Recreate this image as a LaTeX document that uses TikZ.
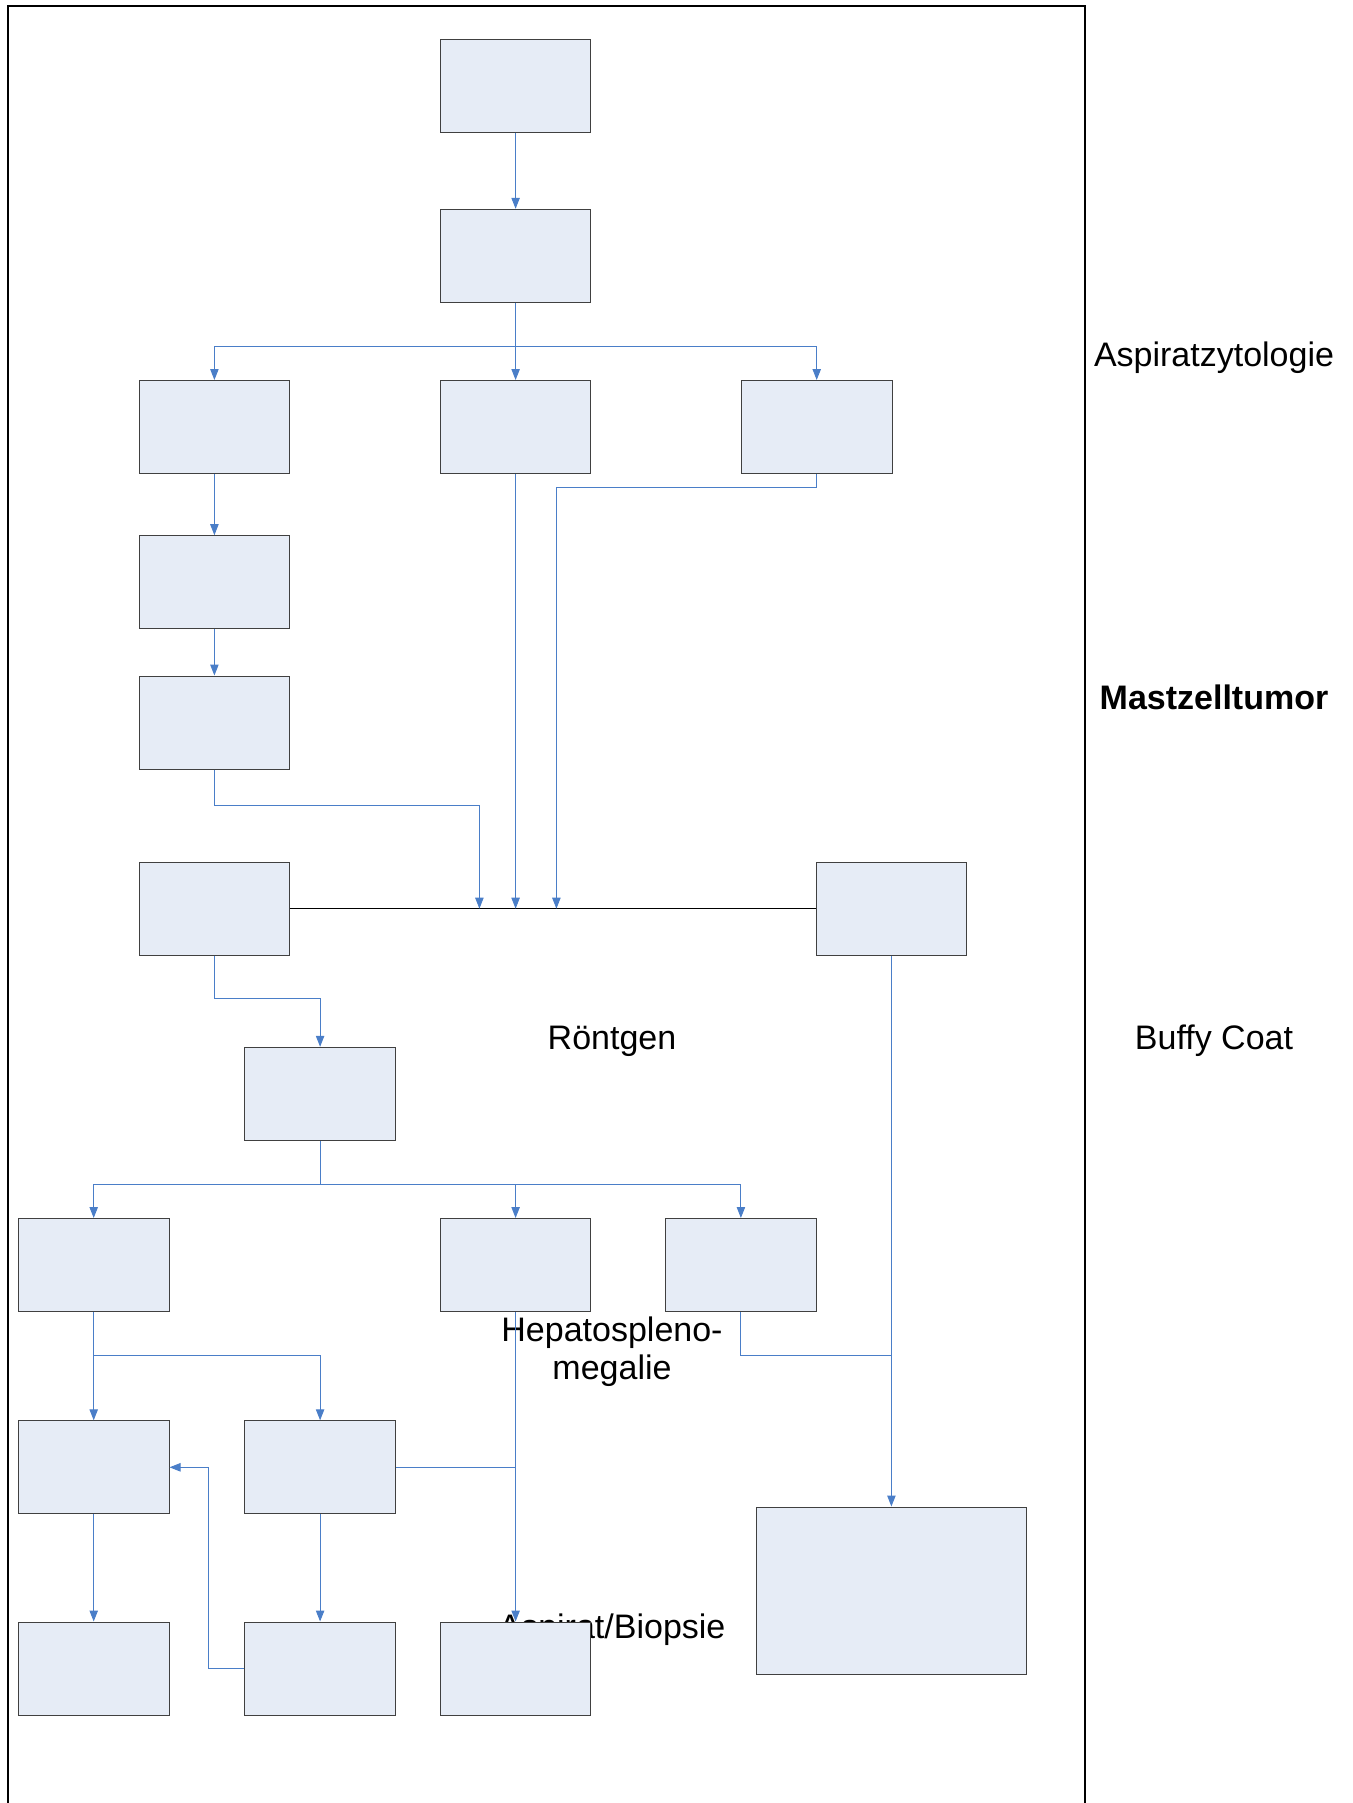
\documentclass[tikz,border=0pt]{standalone}
\usepackage{fontspec}
\setmainfont{Liberation Sans}
\usepackage{xcolor}
\usepackage{tikz}
\usetikzlibrary{arrows.meta,positioning}
\definecolor{xfill}{HTML}{E6ECF6}
\definecolor{xedge}{HTML}{404040}
\definecolor{xblue}{HTML}{4A7EC8}

\begin{document}
\begin{tikzpicture}[
    x=0.5pt, y=-0.5pt,
    >={Triangle[length=5.5pt, width=4.2pt]},
    box/.style={rectangle, draw=xedge, fill=xfill, line width=0.5pt, minimum width=75.3pt, minimum height=46.5pt, inner sep=0pt},
    conn/.style={->, draw=xblue, line width=0.5pt},
    link/.style={draw=xblue, line width=0.5pt},
    lbl/.style={font=\fontsize{17}{19}\selectfont, align=center, inner sep=0pt},
]
\useasboundingbox (0,0) rectangle (1353,1803);

% Frame
\draw[line width=1pt] (8,1803) -- (8,6) -- (1085,6) -- (1085,1803);

% Labels
\node[lbl] (asp) at (1214,358) {Aspiratzytologie};
\node[lbl, font=\fontsize{17}{19}\selectfont\bfseries] (mzt) at (1214,697) {Mastzelltumor};
\node[lbl] (buffy) at (1214,1041) {Buffy Coat};
\node[lbl] (rtg) at (612,1041) {Röntgen};
\node[lbl] (hsm) at (612,1352) {Hepatospleno-\\megalie};
\node[lbl] (biop) at (612,1630) {Aspirat/Biopsie};

% Boxes
\node[box] (top) at (515.6,85.6) {};
\node[box] (sec) at (515.6,255.8) {};
\node[box] (al) at (214.4,427) {};
\node[box] (am) at (515.6,427) {};
\node[box] (ar) at (816.7,427) {};
\node[box] (bl) at (214.4,582.2) {};
\node[box] (cl) at (214.4,722.5) {};
\node[box] (dl) at (214.4,908.7) {};
\node[box] (dr) at (891.4,908.7) {};
\node[box] (ct) at (320.1,1093.8) {};
\node[box] (ea) at (93.7,1265) {};
\node[box] (eb) at (515.6,1265) {};
\node[box] (ec) at (740.9,1265) {};
\node[box] (fa) at (93.7,1467.3) {};
\node[box] (fb) at (320.1,1467.3) {};
\node[box] (ga) at (93.7,1668.5) {};
\node[box] (gb) at (320.1,1668.5) {};
\node[box] (gc) at (515.6,1668.5) {};
\node[box, minimum width=135pt, minimum height=83.9pt] (big) at (891.4,1590.9) {};

% Upper part
\draw[conn] (top) -- (sec);
\draw[conn] (sec) -- (am);
\draw[conn] (sec.south) -- ++(0,43.4) -| (al.north);
\draw[conn] (sec.south) -- ++(0,43.4) -| (ar.north);
\draw[conn] (al) -- (bl);
\draw[conn] (bl) -- (cl);

% Into the line between dl and dr
\draw[line width=0.5pt] (dl.east) -- (dr.west);
\draw[conn] (cl.south) -- ++(0,35.5) coordinate (k1) -- ++(265,0) coordinate (k2) -- (k2 |- dl.east);
\draw[conn] (am.south) -- (am.south |- dl.east);
\draw[conn] (ar.south) -- ++(0,13.9) -- ++(-260.3,0) coordinate (k3) -- (k3 |- dl.east);

% Lower part
\draw[conn] (dl.south) -- ++(0,42.6) -| (ct.north);
\draw[conn] (ct.south) -- ++(0,43.7) -| (ea.north);
\draw[conn] (ct.south) -- ++(0,43.7) -| (eb.north);
\draw[conn] (ct.south) -- ++(0,43.7) -| (ec.north);
\draw[conn] (ea) -- (fa);
\draw[conn] (ea.south) -- ++(0,43.6) -| (fb.north);
\draw[conn] (fa) -- (ga);
\draw[conn] (fb) -- (gb);
\draw[conn] (eb) -- (gc);
\draw[link] (fb.east) -- (fb.east -| eb.south);
\draw[conn] (gb.west) -- ++(-36.1,0) |- (fa.east);

% Right column
\draw[conn] (dr) -- (big);
\draw[link] (ec.south) -- ++(0,43.6) coordinate (k4) -- (k4 -| dr.south);

\end{tikzpicture}
\end{document}
